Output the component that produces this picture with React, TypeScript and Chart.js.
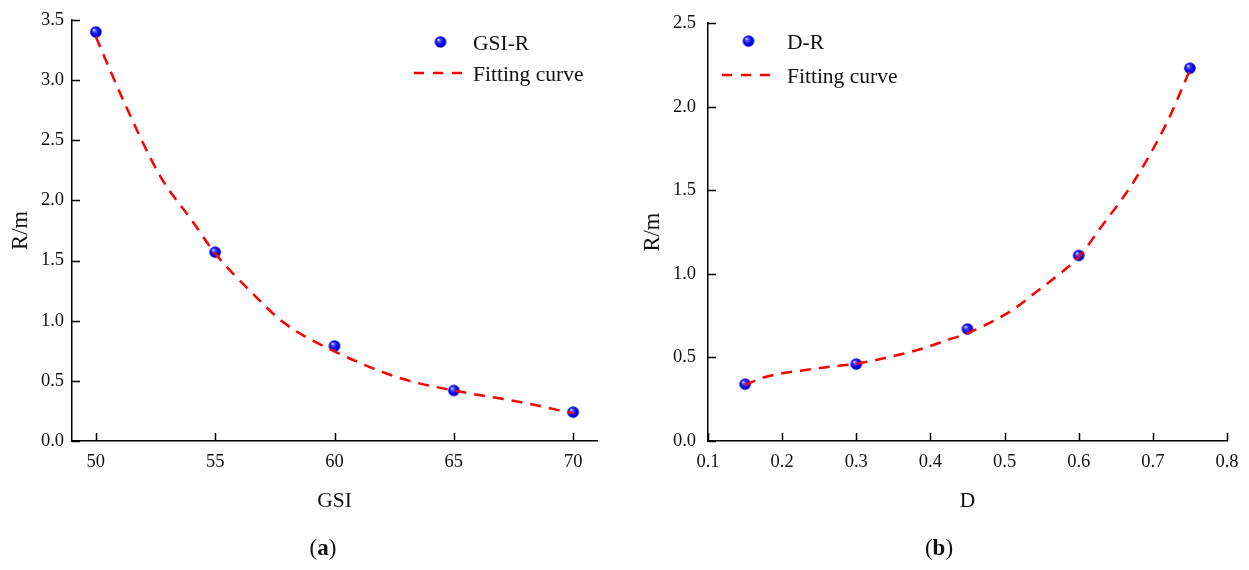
import React, { useEffect, useRef } from "react";
import { Chart, registerables } from "chart.js";

Chart.register(...registerables);

// ---------- Data (a): GSI vs R ----------
const gsiValues = [50, 55, 60, 65, 70];
const gsiR = [3.4, 1.57, 0.79, 0.42, 0.24];
const gsiFitX = [50, 51.2, 52.7, 54, 55, 56.5, 57.9, 60, 62.8, 65, 67.7, 70];
const gsiFitR = [3.36, 2.81, 2.2, 1.84, 1.56, 1.24, 0.98, 0.745, 0.52, 0.42, 0.327, 0.23];
const gsiTicks = [50, 55, 60, 65, 70];
const rTicksA = [0, 0.5, 1.0, 1.5, 2.0, 2.5, 3.0, 3.5];

// ---------- Data (b): D vs R ----------
const dValues = [0.15, 0.3, 0.45, 0.6, 0.75];
const dR = [0.34, 0.46, 0.67, 1.11, 2.23];
const dFitX = [0.15, 0.175, 0.2, 0.234, 0.266, 0.3, 0.342, 0.387, 0.423, 0.45, 0.485, 0.512, 0.539, 0.584, 0.6, 0.629, 0.674, 0.719, 0.75];
const dFitR = [0.335, 0.38, 0.405, 0.426, 0.445, 0.462, 0.5, 0.55, 0.604, 0.645, 0.718, 0.788, 0.879, 1.035, 1.1, 1.273, 1.55, 1.906, 2.22];
const dTicks = [0.1, 0.2, 0.3, 0.4, 0.5, 0.6, 0.7, 0.8];
const rTicksB = [0, 0.5, 1.0, 1.5, 2.0, 2.5];

const FONT = '"Liberation Serif", "Times New Roman", serif';
const TEXT_COLOR = "#111";

function makeBall(r: number): HTMLCanvasElement {
  const c = document.createElement("canvas");
  const size = Math.ceil(2 * r + 2);
  c.width = size;
  c.height = size;
  const ctx = c.getContext("2d")!;
  const cx = size / 2;
  const g = ctx.createRadialGradient(cx - r * 0.35, cx - r * 0.4, r * 0.05, cx, cx, r);
  g.addColorStop(0, "#e8e8ff");
  g.addColorStop(0.25, "#4a4aff");
  g.addColorStop(0.7, "#0000f0");
  g.addColorStop(1, "#0000b0");
  ctx.fillStyle = g;
  ctx.beginPath();
  ctx.arc(cx, cx, r, 0, Math.PI * 2);
  ctx.fill();
  return c;
}

const inwardTicks = {
  id: "inwardTicks",
  afterDraw(chart: any) {
    const { ctx, chartArea, scales } = chart;
    const xs = scales.x;
    const ys = scales.y;
    ctx.save();
    ctx.strokeStyle = "#000";
    ctx.lineWidth = 1.5;
    ctx.beginPath();
    xs.ticks.forEach((t: any) => {
      const px = Math.round(xs.getPixelForValue(t.value)) + 0.5;
      ctx.moveTo(px, chartArea.bottom);
      ctx.lineTo(px, chartArea.bottom - 8);
    });
    ys.ticks.forEach((t: any) => {
      const py = Math.round(ys.getPixelForValue(t.value)) + 0.5;
      ctx.moveTo(chartArea.left, py);
      ctx.lineTo(chartArea.left + 8, py);
    });
    ctx.stroke();
    ctx.restore();
  },
};

const insideLegend = {
  id: "insideLegend",
  afterDraw(chart: any, _args: any, opts: any) {
    if (!opts || !opts.display) return;
    const { ctx, chartArea } = chart;
    ctx.save();
    ctx.font = `${opts.fontSize}px ${FONT}`;
    ctx.fillStyle = TEXT_COLOR;
    ctx.textBaseline = "middle";
    ctx.textAlign = "left";
    const sx = chartArea.left + opts.x;
    chart.data.datasets.forEach((d: any, i: number) => {
      const y = chartArea.top + opts.rows[i];
      if (d.showLine) {
        ctx.save();
        ctx.strokeStyle = d.borderColor;
        ctx.lineWidth = d.borderWidth;
        ctx.setLineDash(opts.dash);
        ctx.beginPath();
        ctx.moveTo(sx, y);
        ctx.lineTo(sx + opts.sampleW, y);
        ctx.stroke();
        ctx.restore();
      } else {
        const img = d.pointStyle as HTMLCanvasElement;
        ctx.drawImage(img, sx + opts.sampleW / 2 - img.width / 2, y - img.height / 2);
      }
      ctx.fillText(d.label, sx + opts.sampleW + opts.textGap, y + 2);
    });
    ctx.restore();
  },
};

type PanelProps = {
  xs: number[];
  ys: number[];
  fitX: number[];
  fitY: number[];
  xTicks: number[];
  yTicks: number[];
  xMin: number;
  xMax: number;
  yMax: number;
  xDecimals: number;
  xTitle: string;
  pointLabel: string;
  width: number;
  yAxisWidth: number;
  rightPad: number;
  yTitlePad: number;
  yTickPad: number;
  legend: any;
};

function Panel(p: PanelProps) {
  const ref = useRef<HTMLCanvasElement | null>(null);
  useEffect(() => {
    if (!ref.current) return;
    const ball = makeBall(5.8);
    const tickFont = { family: FONT, size: 18.5 };
    const titleFont = { family: FONT, size: 21.5 };
    const chart = new Chart(ref.current, {
      type: "scatter",
      data: {
        datasets: [
          {
            label: p.pointLabel,
            data: p.xs.map((x, i) => ({ x, y: p.ys[i] })),
            pointStyle: ball as any,
            pointRadius: 6,
            showLine: false,
            order: 2,
          } as any,
          {
            label: "Fitting curve",
            data: p.fitX.map((x, i) => ({ x, y: p.fitY[i] })),
            showLine: true,
            pointRadius: 0,
            borderColor: "#ff0000",
            borderWidth: 2.5,
            borderDash: [11, 8],
            cubicInterpolationMode: "monotone",
            fill: false,
            order: 1,
          } as any,
        ],
      },
      options: {
        responsive: false,
        animation: false,
        events: [],
        layout: { padding: { left: 0, top: 20, right: p.rightPad, bottom: 0 } },
        plugins: {
          legend: { display: false },
          tooltip: { enabled: false },
          insideLegend: p.legend,
        } as any,
        scales: {
          x: {
            type: "linear",
            min: p.xMin,
            max: p.xMax,
            afterBuildTicks: (s: any) => {
              s.ticks = p.xTicks.map((v) => ({ value: v }));
            },
            afterFit: (s: any) => {
              s.height = 129;
            },
            ticks: {
              font: tickFont,
              color: TEXT_COLOR,
              padding: 10,
              maxRotation: 0,
              autoSkip: false,
              callback: (v: any) => Number(v).toFixed(p.xDecimals),
            },
            grid: { display: true, drawOnChartArea: false, drawTicks: false },
            border: { display: true, color: "#000", width: 1.5 },
            title: {
              display: true,
              text: p.xTitle,
              font: titleFont,
              color: TEXT_COLOR,
              padding: { top: 0, bottom: 56 },
            },
          },
          y: {
            type: "linear",
            min: 0,
            max: p.yMax,
            afterBuildTicks: (s: any) => {
              s.ticks = p.yTicks.map((v) => ({ value: v }));
            },
            afterFit: (s: any) => {
              s.width = p.yAxisWidth;
            },
            ticks: {
              font: tickFont,
              color: TEXT_COLOR,
              padding: p.yTickPad,
              autoSkip: false,
              callback: (v: any) => Number(v).toFixed(1),
            },
            grid: { display: true, drawOnChartArea: false, drawTicks: false },
            border: { display: true, color: "#000", width: 1.5 },
            title: {
              display: true,
              text: "R/m",
              font: { family: FONT, size: 22.5 },
              color: TEXT_COLOR,
              padding: { top: p.yTitlePad, bottom: 0 },
            },
          },
        },
      } as any,
      plugins: [inwardTicks, insideLegend],
    });
    return () => chart.destroy();
  }, []);
  return <canvas ref={ref} width={p.width} height={570} style={{ display: "block" }} />;
}

const captionStyle: React.CSSProperties = {
  position: "absolute",
  top: 534,
  fontFamily: FONT,
  fontSize: 23,
  color: TEXT_COLOR,
  textAlign: "center",
  width: 100,
  lineHeight: "28px",
};

export default function App() {
  return (
    <div
      style={{
        position: "fixed",
        left: 0,
        top: 0,
        width: 1249,
        height: 570,
        background: "#fff",
        overflow: "hidden",
      }}
    >
      <div style={{ position: "absolute", left: 0, top: 0 }}>
        <Panel
          xs={gsiValues}
          ys={gsiR}
          fitX={gsiFitX}
          fitY={gsiFitR}
          xTicks={gsiTicks}
          yTicks={rTicksA}
          xMin={49}
          xMax={71}
          yMax={3.5}
          xDecimals={0}
          xTitle="GSI"
          pointLabel="GSI-R"
          width={624}
          yAxisWidth={72}
          rightPad={27}
          yTitlePad={8}
          yTickPad={8}
          legend={{ display: true, x: 342, rows: [22, 53], sampleW: 53, textGap: 6, fontSize: 21.5, dash: [10, 9] }}
        />
      </div>
      <div style={{ position: "absolute", left: 624, top: 0 }}>
        <Panel
          xs={dValues}
          ys={dR}
          fitX={dFitX}
          fitY={dFitR}
          xTicks={dTicks}
          yTicks={rTicksB}
          xMin={0.1}
          xMax={0.8}
          yMax={2.5}
          xDecimals={1}
          xTitle="D"
          pointLabel="D-R"
          width={625}
          yAxisWidth={84}
          rightPad={22}
          yTitlePad={16}
          yTickPad={12}
          legend={{ display: true, x: 14, rows: [18, 52], sampleW: 53, textGap: 12, fontSize: 21.5, dash: [10, 9] }}
        />
      </div>
      <div style={{ ...captionStyle, left: 273 }}>
        (<b>a</b>)
      </div>
      <div style={{ ...captionStyle, left: 889 }}>
        (<b>b</b>)
      </div>
    </div>
  );
}
